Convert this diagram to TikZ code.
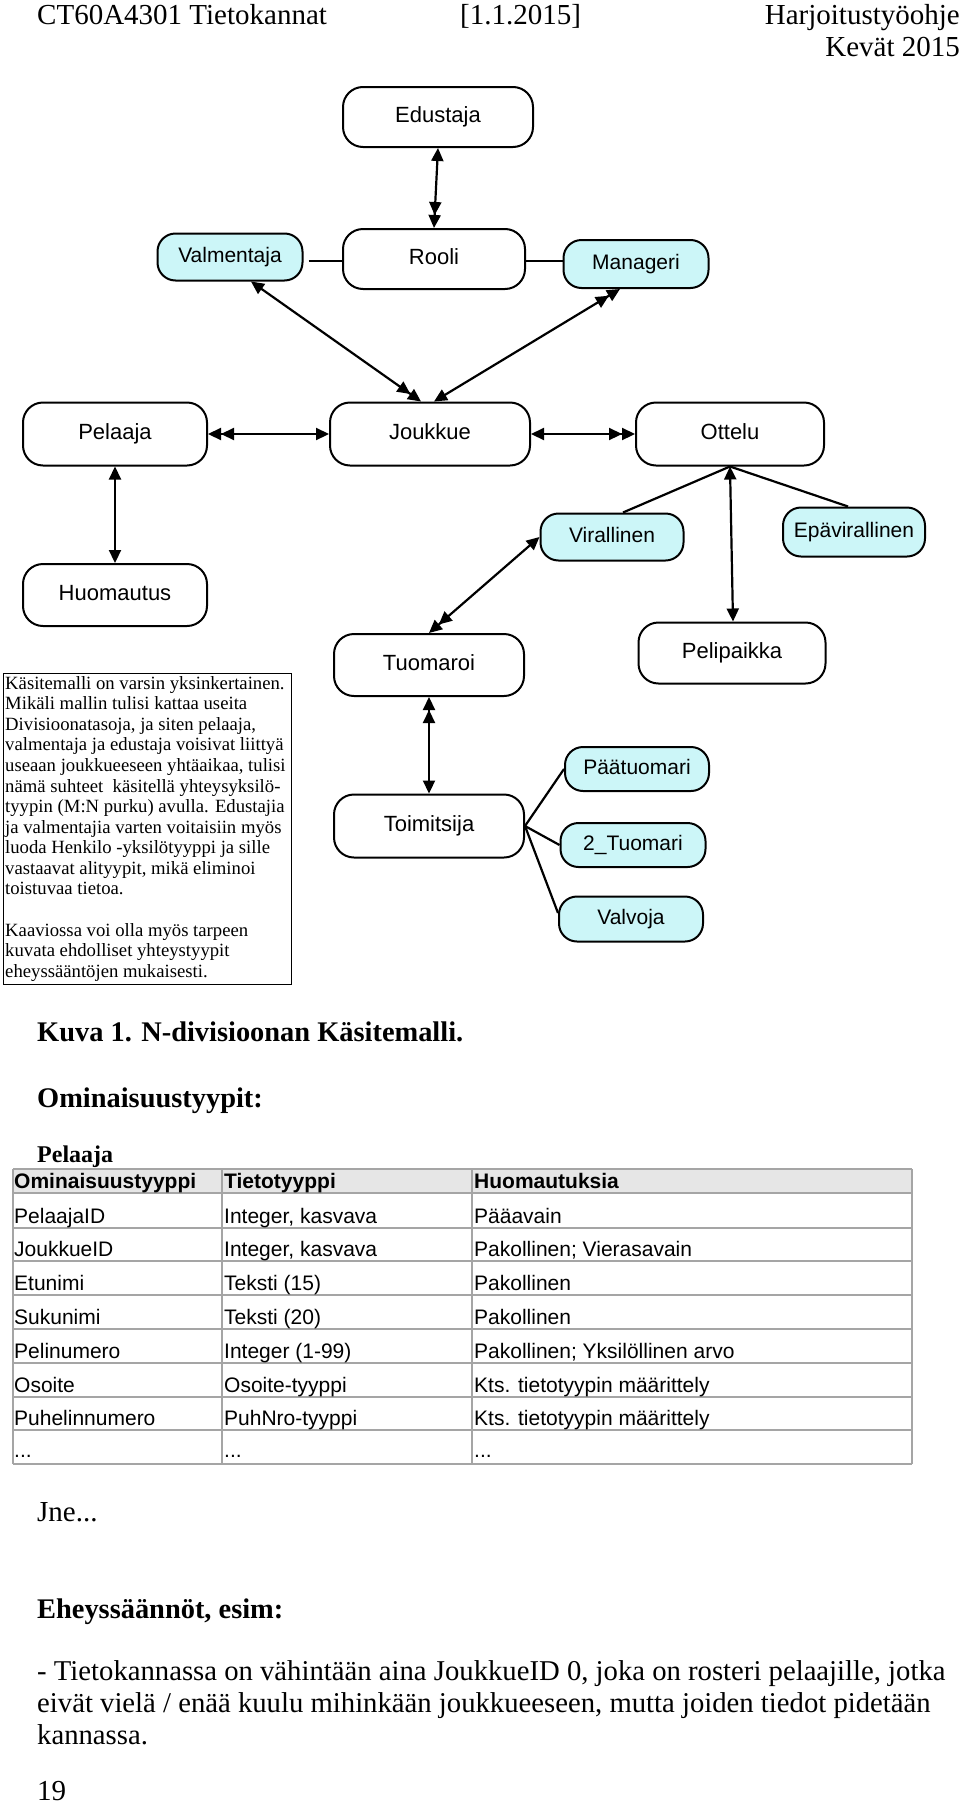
\documentclass[tikz,border=0pt]{standalone}
\usepackage{fontspec}
\setmainfont{Liberation Serif}
\newfontfamily\arialf{Liberation Sans}
\usetikzlibrary{arrows.meta,calc}
\definecolor{cyanfill}{RGB}{204,246,248}
\definecolor{tblline}{RGB}{165,165,165}
\definecolor{tblhead}{RGB}{230,230,230}
\tikzset{
  ent/.style={draw, line width=2pt, rounded corners=20pt, fill=white, inner sep=0pt,
    font=\arialf\fontsize{22}{26}\selectfont, text height=10pt, text depth=0pt},
  subent/.style={ent, fill=cyanfill, rounded corners=18pt,
    font=\arialf\fontsize{21}{25}\selectfont, text height=11pt},
  conn/.style={line width=2.2pt, >={Triangle[length=13pt,width=12pt]}},
  plain/.style={line width=2.2pt},
  hdr/.style={inner sep=0pt, anchor=base west, font=\fontsize{29}{34}\selectfont},
  bodyb/.style={inner sep=0pt, anchor=base west, font=\bfseries\fontsize{28.4}{34}\selectfont},
  cell/.style={inner sep=0pt, anchor=base west, font=\arialf\fontsize{21}{25}\selectfont},
  cellb/.style={cell, font=\arialf\bfseries\fontsize{21}{25}\selectfont},
}
\begin{document}
\begin{tikzpicture}[x=1pt,y=-1pt]
\useasboundingbox[fill=white] (0,0) rectangle (960,1804);

% header
\node[hdr] (h1) at (37,24) {CT60A4301 Tietokannat};
\node[hdr] (h2) at (460,24) {[1.1.2015]};
\node[hdr, anchor=base east] (h3) at (960,24) {Harjoitustyöohje};
\node[hdr, anchor=base east] (h4) at (960,56) {Kevät 2015};

% entities
\node[ent, minimum width=190pt, minimum height=60pt] (edu) at (438,117) {Edustaja};
\node[subent, minimum width=145pt, minimum height=47pt] (val) at (230,257) {Valmentaja};
\node[ent, minimum width=182pt, minimum height=60pt] (roo) at (434,259) {Rooli};
\node[subent, minimum width=145pt, minimum height=48pt] (man) at (636,264) {Manageri};
\node[ent, minimum width=184pt, minimum height=63pt] (pel) at (115,434) {Pelaaja};
\node[ent, minimum width=200pt, minimum height=63pt] (jou) at (430,434) {Joukkue};
\node[ent, minimum width=188pt, minimum height=63pt] (ott) at (730,434) {Ottelu};
\node[subent, minimum width=143pt, minimum height=47pt] (vir) at (612,537) {Virallinen};
\node[subent, minimum width=142pt, minimum height=49pt] (epa) at (854,532) {Epävirallinen};
\node[ent, minimum width=184pt, minimum height=62pt] (huo) at (115,595) {Huomautus};
\node[ent, minimum width=190pt, minimum height=62pt] (tuo) at (429,665) {Tuomaroi};
\node[ent, minimum width=187pt, minimum height=61pt] (pp) at (732,653) {Pelipaikka};
\node[subent, minimum width=144pt, minimum height=44pt] (paa) at (637,769) {Päätuomari};
\node[subent, minimum width=145pt, minimum height=44pt] (tu2) at (633,845) {2\_Tuomari};
\node[ent, minimum width=190pt, minimum height=63pt] (toi) at (429,826) {Toimitsija};
\node[subent, minimum width=144pt, minimum height=45pt] (valv) at (631,919) {Valvoja};

% connectors
\draw[conn, <->>] (edu.south) -- (roo.north);
\draw[plain] ($(val.east)+(5,4)$) -- ($(roo.west)+(0,2)$);
\draw[plain] ($(roo.east)+(0,2)$) -- ($(man.west)+(0,-3)$);
\draw[conn, <->>] ($(val.south)+(21,0)$) -- ($(jou.north)+(-9,0)$);
\draw[conn, <<->] ($(man.south)+(-16,0)$) -- ($(jou.north)+(4,0)$);
\draw[conn, <<->] (pel.east) -- (jou.west);
\draw[conn, <->>] (jou.east) -- (ott.west);
\draw[conn, <->] (pel.south) -- (huo.north);
\draw[plain] (ott.south) -- ($(vir.north)+(11,0)$);
\draw[plain] (ott.south) -- ($(epa.north)+(-6,0)$);
\draw[conn, <->] (ott.south) -- ($(pp.north)+(1,0)$);
\draw[conn, <->>] (vir.west) -- (tuo.north);
\draw[conn, <<->] (tuo.south) -- (toi.north);
\draw[plain] (toi.east) -- (paa.west);
\draw[plain] (toi.east) -- (tu2.west);
\draw[plain] (toi.east) -- ($(valv.west)+(0,-6)$);

% note box
\node[draw, line width=1.3pt, anchor=north west, minimum width=288pt, minimum height=311pt, inner sep=0pt] (notebox) at (3,673) {};
\node[anchor=north west, inner sep=0pt, align=left, font=\fontsize{18.7}{20.57}\selectfont] (notetext) at (5,676) {%
Käsitemalli on varsin yksinkertainen.\\
Mikäli mallin tulisi kattaa useita\\
Divisioonatasoja, ja siten pelaaja,\\
valmentaja ja edustaja voisivat liittyä\\
useaan joukkueeseen yhtäaikaa, tulisi\\
nämä suhteet\ \ käsitellä yhteysyksilö-\\
tyypin (M:N purku) avulla. Edustajia\\
ja valmentajia varten voitaisiin myös\\
luoda Henkilo -yksilötyyppi ja sille\\
vastaavat alityypit, mikä eliminoi\\
toistuvaa tietoa.\\[20.57pt]
Kaaviossa voi olla myös tarpeen\\
kuvata ehdolliset yhteystyypit\\
eheyssääntöjen mukaisesti.};

% captions
\node[bodyb] (kuva) at (37,1041) {Kuva 1. N-divisioonan Käsitemalli.};
\node[bodyb] (omin) at (37,1107) {Ominaisuustyypit:};
\node[bodyb, font=\bfseries\fontsize{24}{28}\selectfont] (pelh) at (37,1162) {Pelaaja};

% table
\fill[tblhead] (13,1169) rectangle (912,1193);
\foreach \yy in {1169,1193,1228,1261,1295,1329,1363,1397,1430,1464}
  \draw[tblline, line width=1.4pt] (13,\yy) -- (912,\yy);
\foreach \xx in {13,222,472,912}
  \draw[tblline, line width=1.4pt] (\xx,1169) -- (\xx,1464);

\node[cellb] (t01) at (14,1188) {Ominaisuustyyppi};
\node[cellb] (t02) at (224,1188) {Tietotyyppi};
\node[cellb] (t03) at (474,1188) {Huomautuksia};
\node[cell] (t11) at (14,1223) {PelaajaID};
\node[cell] (t12) at (224,1223) {Integer, kasvava};
\node[cell] (t13) at (474,1223) {Pääavain};
\node[cell] (t21) at (14,1256) {JoukkueID};
\node[cell] (t22) at (224,1256) {Integer, kasvava};
\node[cell] (t23) at (474,1256) {Pakollinen; Vierasavain};
\node[cell] (t31) at (14,1290) {Etunimi};
\node[cell] (t32) at (224,1290) {Teksti (15)};
\node[cell] (t33) at (474,1290) {Pakollinen};
\node[cell] (t41) at (14,1324) {Sukunimi};
\node[cell] (t42) at (224,1324) {Teksti (20)};
\node[cell] (t43) at (474,1324) {Pakollinen};
\node[cell] (t51) at (14,1358) {Pelinumero};
\node[cell] (t52) at (224,1358) {Integer (1-99)};
\node[cell] (t53) at (474,1358) {Pakollinen; Yksilöllinen arvo};
\node[cell] (t61) at (14,1392) {Osoite};
\node[cell] (t62) at (224,1392) {Osoite-tyyppi};
\node[cell] (t63) at (474,1392) {Kts. tietotyypin määrittely};
\node[cell] (t71) at (14,1425) {Puhelinnumero};
\node[cell] (t72) at (224,1425) {PuhNro-tyyppi};
\node[cell] (t73) at (474,1425) {Kts. tietotyypin määrittely};
\node[cell] (t81) at (14,1457) {...};
\node[cell] (t82) at (224,1457) {...};
\node[cell] (t83) at (474,1457) {...};

% bottom texts
\node[hdr] (jne) at (37,1521) {Jne...};
\node[bodyb] (ehe) at (37,1618) {Eheyssäännöt, esim:};
\node[hdr, anchor=north west, align=left, font=\fontsize{28.7}{32}\selectfont] (para) at (37,1660) {%
- Tietokannassa on vähintään aina JoukkueID 0, joka on rosteri pelaajille, jotka\\
eivät vielä / enää kuulu mihinkään joukkueeseen, mutta joiden tiedot pidetään\\
kannassa.};
\node[hdr] (pno) at (37,1800) {19};
\end{tikzpicture}
\end{document}
